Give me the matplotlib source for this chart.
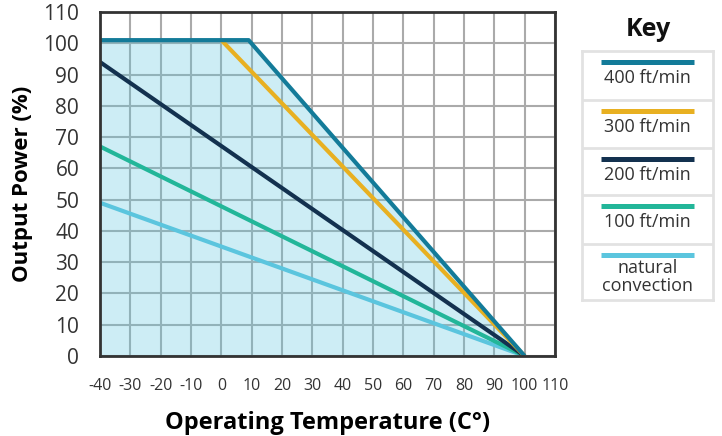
import matplotlib.pyplot as plt
import numpy as np

plt.rcParams['font.family'] = ['Open Sans', 'DejaVu Sans']
plt.rcParams['axes.unicode_minus'] = False

# Derating curves (temperature C, output power %)
temp_400 = [-40, 9, 100]
power_400 = [101, 101, 0]
temp_300 = [0, 100]
power_300 = [101, 0]
temp_200 = [-40, 100]
power_200 = [94, 0]
temp_100 = [-40, 100]
power_100 = [67, 0]
temp_nat = [-40, 100]
power_nat = [49, 0]

labels = ["400 ft/min", "300 ft/min", "200 ft/min", "100 ft/min", "natural\nconvection"]
colors = ["#137b99", "#e8b021", "#13314f", "#22b699", "#5bc5de"]

x_ticks = list(range(-40, 111, 10))
y_ticks = list(range(0, 111, 10))

fig = plt.figure(figsize=(7.22, 4.36), dpi=100)
ax = fig.add_axes([100 / 722, 1 - 356 / 436, 455 / 722, 344 / 436])

# Shaded operating region under the 400 ft/min envelope
ax.fill_between(temp_400, power_400, 0, color="#5bc5de", alpha=0.3, lw=0, zorder=2)

series = [(temp_nat, power_nat), (temp_100, power_100), (temp_200, power_200),
          (temp_300, power_300), (temp_400, power_400)]
for (t, p), c in zip(series, colors[::-1]):
    ax.plot(t, p, color=c, lw=3, solid_capstyle="butt", zorder=3)

ax.set_xlim(-40, 110)
ax.set_ylim(0, 110)
ax.set_xticks(x_ticks)
ax.set_yticks(y_ticks)
ax.grid(True, color="#aaaaaa", lw=1.5, zorder=1)
ax.set_axisbelow(True)
for s in ax.spines.values():
    s.set_color("#333333")
    s.set_linewidth(2)
    s.set_zorder(4)

ax.tick_params(axis="x", length=0, pad=16, labelsize=11.5, labelcolor="#333333")
ax.tick_params(axis="y", length=0, pad=15, labelsize=15, labelcolor="#333333")

ax.set_xlabel("Operating Temperature (C°)", fontsize=17, fontweight="bold", labelpad=12)
ax.set_ylabel("Output Power (%)", fontsize=16, fontweight="bold")
ax.yaxis.set_label_coords(-0.148, 0.5)

# Key box drawn as a stacked table (pixel rows, top to bottom)
fig.text(648 / 722, 1 - 30 / 436, "Key", ha="center", va="center",
         fontsize=18, fontweight="bold", color="#111111")
row_edges = [51, 100, 148, 195, 244, 300]
leg = fig.add_axes([582 / 722, 1 - 300 / 436, 131 / 722, 249 / 436])
leg.set_xlim(582, 713)
leg.set_ylim(300, 51)
leg.set_xticks([])
leg.set_yticks([])
for s in leg.spines.values():
    s.set_color("#e2e2e2")
    s.set_linewidth(2)
for i, (lab, c) in enumerate(zip(labels, colors)):
    top = row_edges[i]
    if i > 0:
        leg.axhline(top, color="#e2e2e2", lw=2)
    leg.plot([601, 694], [top + 10.5, top + 10.5], color=c, lw=3.6, solid_capstyle="butt")
    if "\n" in lab:
        leg.text(647.5, top + 33, lab, ha="center", va="center", fontsize=13,
                 color="#333333", linespacing=1.05)
    else:
        leg.text(647.5, top + 27, lab, ha="center", va="center", fontsize=13, color="#333333")

fig.savefig("out.png", dpi=100)
